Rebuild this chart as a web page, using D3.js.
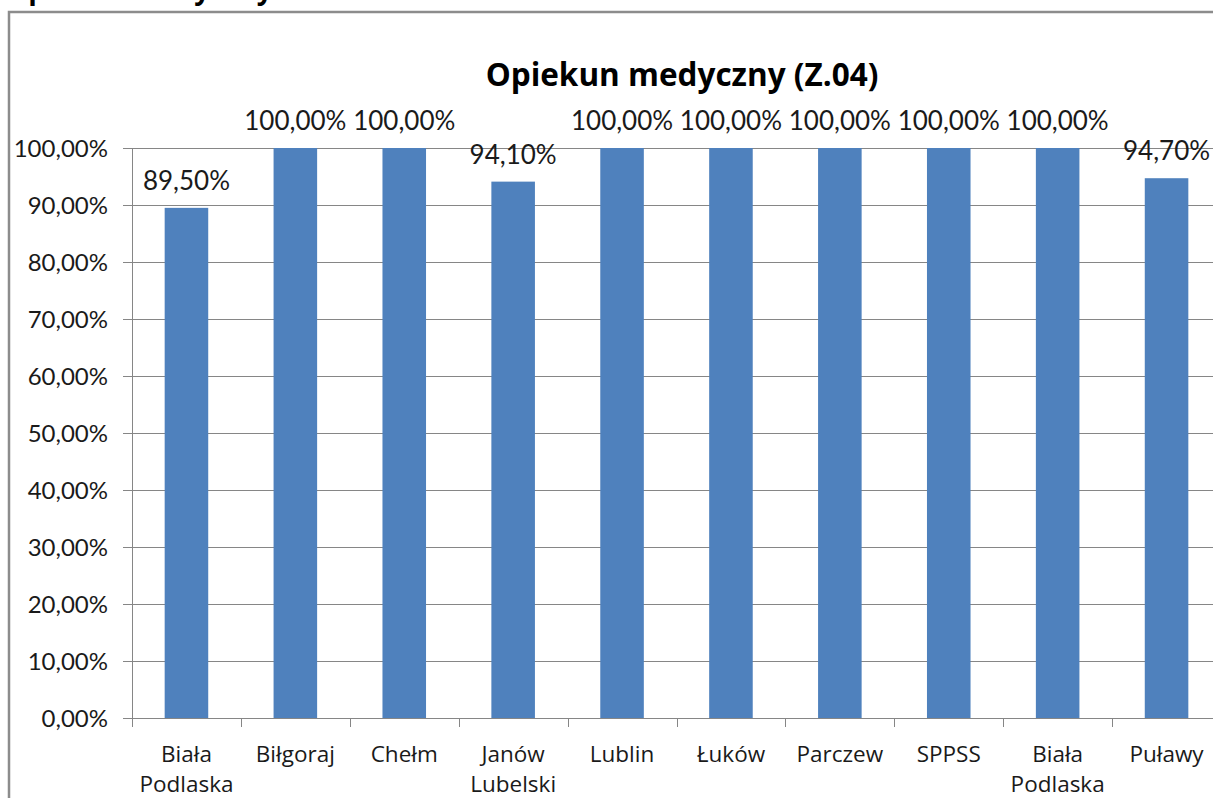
<!DOCTYPE html>
<html>
<head>
<meta charset="utf-8">
<script src="https://cdn.jsdelivr.net/npm/d3@7"></script>
<style>
  html, body { margin: 0; padding: 0; background: #fff; overflow: hidden; }
  text { font-family: Lato, "Open Sans", sans-serif; }
</style>
</head>
<body>
<div id="chart"></div>
<script>
// data
const categories = ["Biała Podlaska", "Biłgoraj", "Chełm", "Janów Lubelski", "Lublin", "Łuków", "Parczew", "SPPSS", "Biała Podlaska", "Puławy"];
const values = [89.5, 100, 100, 94.1, 100, 100, 100, 100, 100, 94.7];
const yTicks = [0, 10, 20, 30, 40, 50, 60, 70, 80, 90, 100];
const title = "Opiekun medyczny (Z.04)";
const pageHeading = "Opiekun medyczny";

const W = 1213, H = 798;
const barColor = "#4f81bd", gridColor = "#868686";
const wideFont = "'Open Sans', sans-serif";

var svg = d3.select("#chart").append("svg")
  .attr("width", W)
  .attr("height", H);

// heading cut off above the chart (only its descenders show)
svg.append("text")
  .attr("x", 6).attr("y", -1)
  .style("font-family", wideFont)
  .attr("font-size", "28px").attr("font-weight", "bold")
  .attr("fill", "#000")
  .text(pageHeading);

// outer chart frame (runs off the right and bottom)
svg.append("rect")
  .attr("x", 9).attr("y", 12)
  .attr("width", W + 20).attr("height", H + 20)
  .attr("fill", "none")
  .attr("stroke", "#8c8c8c")
  .attr("stroke-width", 2.5);

const plot = {left: 132, right: 1221, top: 148, bottom: 718};

var keys = categories.map((c, i) => i);
var x = d3.scaleBand().domain(keys).range([plot.left, plot.right]).paddingInner(0.6).paddingOuter(0.3);
var xSlot = d3.scaleBand().domain(keys).range([plot.left, plot.right]).padding(0);
var y = d3.scaleLinear().domain([0, 100]).range([plot.bottom, plot.top]);

var pl = d3.formatLocale({decimal: ",", thousands: " ", grouping: [3], currency: ["", " zł"]});
var pct = v => pl.format(".2f")(v) + "%";

// gridlines with left ticks
svg.append("g").selectAll("line")
  .data(yTicks)
  .enter().append("line")
    .attr("x1", plot.left - 9).attr("x2", W)
    .attr("y1", d => Math.round(y(d)) + 0.5).attr("y2", d => Math.round(y(d)) + 0.5)
    .attr("stroke", gridColor).attr("stroke-width", 1);

svg.append("g").selectAll("text")
  .data(yTicks)
  .enter().append("text")
    .attr("x", 108)
    .attr("y", d => y(d))
    .attr("dy", "0.36em")
    .attr("text-anchor", "end")
    .attr("font-size", "24px")
    .attr("fill", "#1a1a1a")
    .text(d => pct(d));

// y axis line
svg.append("line")
  .attr("x1", plot.left + 0.5).attr("x2", plot.left + 0.5)
  .attr("y1", plot.top).attr("y2", plot.bottom)
  .attr("stroke", gridColor);

// x axis category separators
svg.append("g").selectAll("line")
  .data(keys)
  .enter().append("line")
    .attr("x1", d => Math.round(xSlot(d)) + 0.5).attr("x2", d => Math.round(xSlot(d)) + 0.5)
    .attr("y1", plot.bottom).attr("y2", plot.bottom + 9)
    .attr("stroke", gridColor);

// bars
svg.append("g").selectAll("rect")
  .data(values)
  .enter().append("rect")
    .attr("x", (d, i) => x(i))
    .attr("y", d => y(d))
    .attr("width", x.bandwidth())
    .attr("height", d => y(0) - y(d))
    .attr("fill", barColor);

// data labels
svg.append("g").selectAll("text")
  .data(values)
  .enter().append("text")
    .attr("x", (d, i) => x(i) + x.bandwidth() / 2)
    .attr("y", d => y(d) - 18)
    .attr("text-anchor", "middle")
    .attr("font-size", "26px")
    .attr("fill", "#1a1a1a")
    .text(d => pct(d));

// category labels, wrapped on the space
svg.append("g").selectAll("text")
  .data(categories)
  .enter().append("text")
    .attr("text-anchor", "middle")
    .style("font-family", wideFont)
    .attr("font-size", "22.5px")
    .attr("fill", "#1a1a1a")
    .each(function(d, i) {
      var words = d.split(" ");
      var cx = xSlot(i) + xSlot.bandwidth() / 2;
      words.forEach((w, j) => {
        d3.select(this).append("tspan")
          .attr("x", cx)
          .attr("y", 762 + j * 30)
          .text(w);
      });
    });

// title
svg.append("text")
  .attr("x", 682).attr("y", 86)
  .attr("text-anchor", "middle")
  .style("font-family", wideFont)
  .attr("font-size", "31.5px").attr("font-weight", "bold")
  .attr("fill", "#000")
  .text(title);
</script>
</body>
</html>
